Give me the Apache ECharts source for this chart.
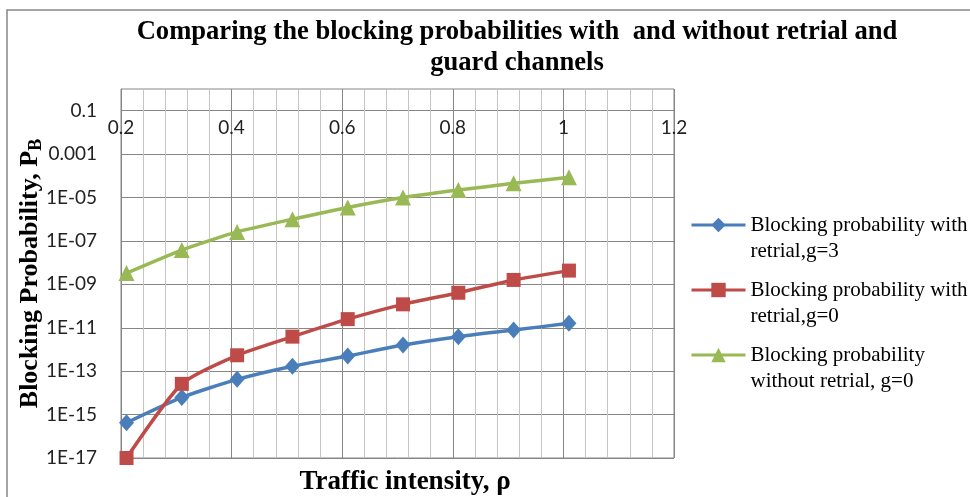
<!DOCTYPE html>
<html>
<head>
<meta charset="utf-8">
<script src="https://cdn.jsdelivr.net/npm/echarts@6/dist/echarts.min.js"></script>
<style>html,body{margin:0;padding:0;background:#fff}#c{width:970px;height:497px}</style>
</head>
<body>
<div id="c"></div>
<script>
var trafficIntensity = [0.21, 0.31, 0.41, 0.51, 0.61, 0.71, 0.81, 0.91, 1.01];
var retrialG3 = [4.2e-16, 6.2e-15, 4.2e-14, 1.7e-13, 5e-13, 1.6e-12, 3.9e-12, 7.8e-12, 1.6e-11];
var retrialG0 = [1e-17, 2.6e-14, 5.4e-13, 3.9e-12, 2.5e-11, 1.2e-10, 4.1e-10, 1.6e-9, 4.3e-9];
var noRetrialG0 = [3.3e-9, 3.8e-8, 2.6e-7, 1e-6, 3.5e-6, 1.0e-5, 2.2e-5, 4.5e-5, 8.5e-5];
var seriesNames = ['Blocking probability with\nretrial,g=3', 'Blocking probability with\nretrial,g=0', 'Blocking probability\nwithout retrial, g=0'];
var titleText = 'Comparing the blocking probabilities with  and without retrial and\nguard channels';
var xLabelText = 'Traffic intensity, \u03c1';

function pairs(xs, ys) { return xs.map(function (x, i) { return [x, ys[i]]; }); }
function yLabel(v) {
  var e = Math.round(Math.log10(v));
  if (e % 2 === 0) return '';
  if (e === -1) return '0.1';
  if (e === -3) return '0.001';
  var n = -e;
  return '1E-' + (n < 10 ? '0' + n : n);
}
var serif = 'Liberation Serif';
var chart = echarts.init(document.getElementById('c'));
chart.setOption({
  animation: false,
  backgroundColor: '#fff',
  graphic: [{ type: 'rect', shape: { x: 7, y: 10, width: 1100, height: 700 }, style: { fill: 'none', stroke: '#868686', lineWidth: 1.5 }, silent: true }],
  title: [
    { text: titleText, left: 517, top: 17, padding: 0, textAlign: 'center',
      textStyle: { fontFamily: serif, fontWeight: 'bold', fontSize: 26.6, lineHeight: 31, color: '#000' } },
    { text: xLabelText, left: 405, top: 469, padding: 0, textAlign: 'center',
      textStyle: { fontFamily: serif, fontWeight: 'bold', fontSize: 27, color: '#000' } }
  ],
  grid: { left: 121, right: 296, top: 89, bottom: 39, show: true, borderColor: '#868686', borderWidth: 1 },
  legend: {
    orient: 'vertical', left: 690, top: 186, padding: 0, itemGap: -13,
    itemWidth: 54, itemHeight: 18,
    lineStyle: { width: 3 },
    formatter: function (n) { return '\n' + n; },
    textStyle: { fontFamily: serif, fontSize: 21, lineHeight: 26, color: '#000' },
    data: seriesNames
  },
  xAxis: {
    type: 'value', min: 0.2, max: 1.2, interval: 0.2, position: 'top', offset: -21.7,
    axisLine: { show: false }, axisTick: { show: false },
    axisLabel: { inside: true, margin: 8, fontFamily: 'Lato', fontSize: 19, color: '#222', showMinLabel: true, showMaxLabel: true,
      formatter: function (v) { return String(+v.toFixed(1)); } },
    splitLine: { show: true, lineStyle: { color: '#868686', width: 1 } },
    minorTick: { show: false, splitNumber: 5 },
    minorSplitLine: { show: true, lineStyle: { color: '#C4C4C4', width: 1 } }
  },
  yAxis: {
    type: 'log', logBase: 10, min: 1e-17, max: 1, interval: 1,
    name: '{a|Blocking Probability, P}{b|B}', nameLocation: 'middle', nameRotate: 90, nameGap: 76, nameMoveOverlap: false,
    nameTextStyle: { rich: {
      a: { fontFamily: serif, fontWeight: 'bold', fontSize: 26, lineHeight: 30, color: '#000' },
      b: { fontFamily: serif, fontWeight: 'bold', fontSize: 18, verticalAlign: 'bottom', color: '#000' }
    } },
    axisLine: { show: true, lineStyle: { color: '#868686' } },
    axisTick: { show: false },
    axisLabel: { margin: 24, fontFamily: 'Lato', fontSize: 19, color: '#222', formatter: yLabel, showMinLabel: true, showMaxLabel: true },
    splitLine: { show: true, lineStyle: { color: ['#868686', 'rgba(0,0,0,0)'], width: 1 } }
  },
  series: [
    { name: seriesNames[0], type: 'line', data: pairs(trafficIntensity, retrialG3), smooth: 0.2, clip: false,
      symbol: 'diamond', symbolSize: [15, 17], color: '#4A7EBB', lineStyle: { width: 3.5, color: '#4A7EBB' }, itemStyle: { color: '#4A7EBB' } },
    { name: seriesNames[1], type: 'line', data: pairs(trafficIntensity, retrialG0), smooth: 0.2, clip: false,
      symbol: 'rect', symbolSize: 14, color: '#BE4B48', lineStyle: { width: 3.5, color: '#BE4B48' }, itemStyle: { color: '#BE4B48' } },
    { name: seriesNames[2], type: 'line', data: pairs(trafficIntensity, noRetrialG0), smooth: 0.2, clip: false,
      symbol: 'triangle', symbolSize: 16, color: '#98B954', lineStyle: { width: 3.5, color: '#98B954' }, itemStyle: { color: '#98B954' } }
  ]
});
</script>
</body>
</html>
